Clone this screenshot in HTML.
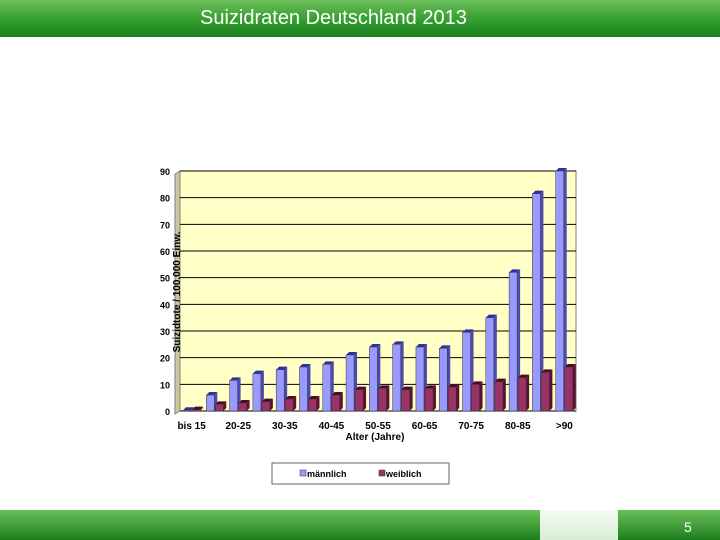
<!DOCTYPE html>
<html><head><meta charset="utf-8"><style>
body{margin:0;width:720px;height:540px;overflow:hidden;background:#fff;font-family:"Liberation Sans",sans-serif;position:relative}
.top{position:absolute;left:0;top:0;width:720px;height:37px;background:linear-gradient(#6cbf5a,#2f9a2c 60%,#1c7f1c)}
.top div{color:#fff;font-size:20px;text-align:center;line-height:37px;margin-left:-macro}
.bot{position:absolute;left:0;top:510px;width:720px;height:30px;background:linear-gradient(#6cbf5a,#1c7f1c)}
.box{position:absolute;left:540px;top:510px;width:78px;height:30px;background:linear-gradient(#f4fbf2,#d8eed3)}
</style></head><body>
<div class="top"><div style="margin-right:0;padding-right:0;width:720px;text-align:left;padding-left:200px;box-sizing:border-box">Suizidraten Deutschland 2013</div></div>
<svg id="c" width="720" height="540" style="position:absolute;left:0;top:0"></svg>
<div class="bot"></div>
<div class="box"></div>
<div style="position:absolute;left:684px;top:519px;color:#fff;font-size:14px">5</div>
<script>
const categories=["bis 15","15-20","20-25","25-30","30-35","35-40","40-45","45-50","50-55","55-60","60-65","65-70","70-75","75-80","80-85","85-90",">90"];
const maleValues=[0.3,6,11.5,14,15.5,16.5,17.5,21,24,25,24,23.5,29.5,35,52,81.5,90];
const femaleValues=[0.5,2.5,3,3.5,4.5,4.5,6,8,8.5,8,8.5,9,10,11,12.5,14.5,16.5];
const yTicks=[0,10,20,30,40,50,60,70,80,90];
const NS="http://www.w3.org/2000/svg",svg=document.getElementById('c');
const X0=180,X1=576,Y0=411,Y1=171;
const y=v=>Y0-(v/90)*(Y0-Y1);
const bw=(X1-X0)/categories.length;
function mk(t,a,p){const e=document.createElementNS(NS,t);for(const k in a)e.setAttribute(k,a[k]);(p||svg).appendChild(e);return e;}
let e=mk('rect',{x:X0,y:Y1,width:X1-X0,height:Y0-Y1,fill:'#ffffc6',stroke:'#808080'});

mk('polygon',{points:`${X0-5},${Y1+3} ${X0},${Y1} ${X0},${Y0} ${X0-5},${Y0+3}`,fill:'#c8c8a0',stroke:'#808080'});
yTicks.forEach(t=>{
 const l=mk('line',{x1:X0,x2:X1,y1:y(t),y2:y(t),stroke:'#000','stroke-width':1});
 
 const tx=mk('text',{x:170,y:y(t)+4,'text-anchor':'end','font-size':9,'font-weight':'bold'});tx.textContent=t;
 
});
function bar(cx,v,fill,side,top,name){
 const w=8,d=3,yy=y(v);
 mk('polygon',{points:`${cx+w},${yy} ${cx+w+d},${yy-d} ${cx+w+d},${Y0-d} ${cx+w},${Y0}`,fill:side});
 mk('polygon',{points:`${cx},${yy} ${cx+d},${yy-d} ${cx+w+d},${yy-d} ${cx+w},${yy}`,fill:top});
 const r=mk('rect',{x:cx,y:yy,width:w,height:Y0-yy,fill:fill,stroke:'#333','stroke-width':0.5});
 
}
categories.forEach((c,i)=>{
 const bx=X0+i*bw+3;
 bar(bx,maleValues[i],'#9999ff','#4a4ab0','#3030a0','bar-male');
 bar(bx+9,femaleValues[i],'#993366','#5a1030','#4a0a28','bar-female');
 if(i%2==0){const t=mk('text',{x:X0+i*bw+bw/2,y:429,'text-anchor':'middle','font-size':10,'font-weight':'bold'});t.textContent=c;
 }
});
let t=mk('text',{x:375,y:440,'text-anchor':'middle','font-size':10,'font-weight':'bold'});t.textContent='Alter (Jahre)';

t=mk('text',{x:0,y:0,'text-anchor':'middle','font-size':10,'font-weight':'bold',transform:'translate(180,292) rotate(-90)'});t.textContent='Suizidtote / 100.000 Einw.';

const lg=mk('g',{});
mk('rect',{x:272,y:463,width:177,height:21,fill:'#fff',stroke:'#666'},lg);
mk('rect',{x:300,y:470,width:6,height:6,fill:'#9999ff',stroke:'#333','stroke-width':0.5},lg);
t=mk('text',{x:307,y:477,'font-size':9,'font-weight':'bold'},lg);t.textContent='männlich';

mk('rect',{x:379,y:470,width:6,height:6,fill:'#993366',stroke:'#333','stroke-width':0.5},lg);
t=mk('text',{x:386,y:477,'font-size':9,'font-weight':'bold'},lg);t.textContent='weiblich';

</script>
</body></html>
